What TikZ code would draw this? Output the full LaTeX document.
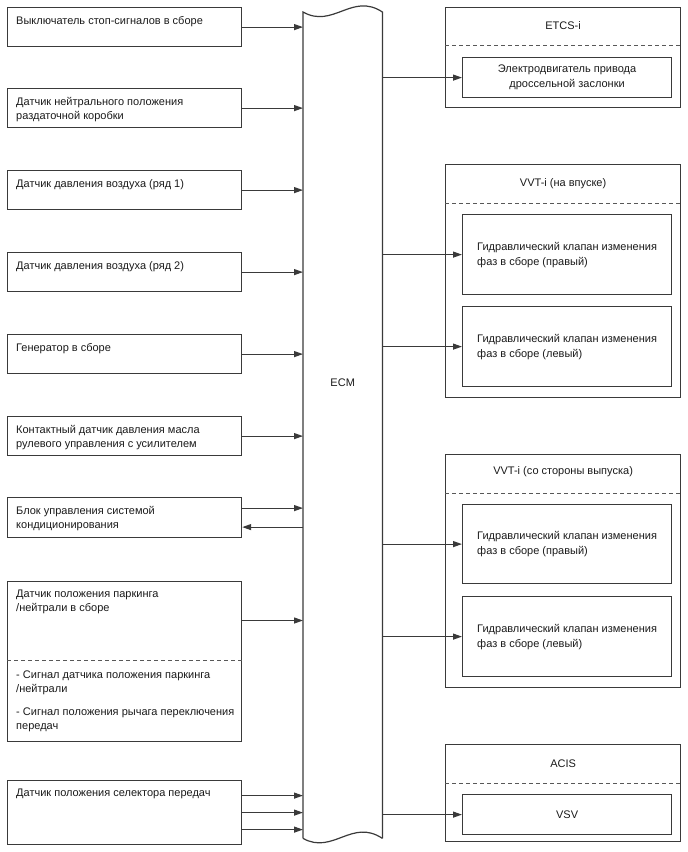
\documentclass[tikz,border=0pt]{standalone}
\usepackage{fontspec}
\setmainfont{Liberation Sans}
\usetikzlibrary{arrows.meta,positioning}
\definecolor{ecmLine}{HTML}{3A3A3A}
\definecolor{ecmText}{HTML}{1A1A1A}
\tikzset{
  ecm frame/.style={draw=ecmLine, line width=1.2pt, rectangle, inner sep=0pt, anchor=north west},
  ecm in/.style={ecm frame, minimum width=234pt, minimum height=39pt},
  ecm text/.style={font=\fontsize{11}{14}\selectfont, text=ecmText, align=left, inner sep=0pt, anchor=north west},
  ecm head/.style={font=\fontsize{11}{14}\selectfont, text=ecmText, inner sep=0pt},
  ecm group/.style={ecm frame, minimum width=235pt},
  ecm valve/.style={ecm frame, minimum width=209pt, font=\fontsize{11}{15}\selectfont, text=ecmText},
  ecm sep/.style={draw=ecmLine!85, line width=0.9pt, dash pattern=on 4pt off 3pt},
  ecm line/.style={draw=ecmLine, line width=1.2pt},
  ecm link/.style={ecm line, -{Triangle[length=9pt,width=6pt]}},
}
\begin{document}
\begin{tikzpicture}[x=1pt,y=-1pt]
\useasboundingbox (0,0) rectangle (688,852);
% ECM
\node[inner sep=0pt, anchor=north west, minimum width=79pt, minimum height=826pt] (ecm) at (303,12) {};
\draw[ecm line] (ecm.south west) -- (ecm.north west) .. controls (333,29) and (352,-8) .. (ecm.north east) -- (ecm.south east);
\draw[ecm line] (ecm.south west) .. controls (333,855) and (352,818) .. (ecm.south east);
\node[ecm head] (ecm txt) at (ecm.center |- 0,383) {ECM};
% inputs
\foreach \n/\y/\t in {stop/7/{Выключатель стоп-сигналов в сборе},
  trans/88/{Датчик нейтрального положения\\раздаточной коробки},
  pbank1/170/{Датчик давления воздуха (ряд 1)},
  pbank2/252/{Датчик давления воздуха (ряд 2)},
  alt/334/{Генератор в сборе},
  pps/416/{Контактный датчик давления масла\\рулевого управления с усилителем}}{
  \node[ecm in] (\n) at (7,\y) {};
  \node[ecm text] (\n txt) at ([shift={(9,9)}]\n.north west) {\t};
  \draw[ecm link] (\n.east) -- (\n.east -| ecm.west);
}
\node[ecm in, minimum height=40pt] (ac) at (7,497) {};
\node[ecm text] (ac txt) at ([shift={(9,9)}]ac.north west) {Блок управления системой\\кондиционирования};
\coordinate (ac out) at ([shift={(0,-9.5)}]ac.east);
\coordinate (ac in) at ([shift={(0,9.5)}]ac.east);
\draw[ecm link] (ac out) -- (ac out -| ecm.west);
\draw[ecm link] (ac in -| ecm.west) -- (ac in);
\node[ecm in, minimum height=160pt] (park) at (7,581) {};
\node[ecm text] (park txt) at ([shift={(9,9)}]park.north west) {Датчик положения паркинга\\/нейтрали в сборе};
\draw[ecm sep] ([shift={(0,79)}]park.north west) -- ([shift={(0,79)}]park.north east);
\node[ecm text] (park sig) at ([shift={(9,90)}]park.north west) {- Сигнал датчика положения паркинга\\/нейтрали\\[9pt]- Сигнал положения рычага переключения\\передач};
\coordinate (park out) at ([shift={(0,39.5)}]park.north east);
\draw[ecm link] (park out) -- (park out -| ecm.west);
\node[ecm in, minimum height=64pt] (sel) at (7,780) {};
\node[ecm text] (sel txt) at ([shift={(9,9)}]sel.north west) {Датчик положения селектора передач};
\foreach \d/\m in {-17/a,0/b,17/c}{
  \coordinate (sel \m) at ([shift={(0,\d)}]sel.east);
  \draw[ecm link] (sel \m) -- (sel \m -| ecm.west);
}
% outputs
\node[ecm group, minimum height=100pt] (etcs) at (445,7) {};
\node[ecm head] (etcs txt) at ([shift={(0,19)}]etcs.north) {ETCS-i};
\draw[ecm sep] ([shift={(0,38)}]etcs.north west) -- ([shift={(0,38)}]etcs.north east);
\node[ecm valve, minimum height=40pt, align=center] (thr) at (462,57) {Электродвигатель привода\\дроссельной заслонки};
\draw[ecm link] (thr.west -| ecm.east) -- (thr.west);
\node[ecm group, minimum height=233pt] (vin) at (445,164) {};
\node[ecm head] (vin txt) at ([shift={(0,20)}]vin.north) {VVT-i (на впуске)};
\draw[ecm sep] ([shift={(0,39)}]vin.north west) -- ([shift={(0,39)}]vin.north east);
\node[ecm valve, minimum height=80pt, align=left] (ocvinr) at (462,214) {Гидравлический клапан изменения\\фаз в сборе (правый)};
\node[ecm valve, minimum height=80pt, align=left] (ocvinl) at (462,306) {Гидравлический клапан изменения\\фаз в сборе (левый)};
\draw[ecm link] (ocvinr.west -| ecm.east) -- (ocvinr.west);
\draw[ecm link] (ocvinl.west -| ecm.east) -- (ocvinl.west);
\node[ecm group, minimum height=233pt] (vex) at (445,454) {};
\node[ecm head] (vex txt) at ([shift={(0,18)}]vex.north) {VVT-i (со стороны выпуска)};
\draw[ecm sep] ([shift={(0,39)}]vex.north west) -- ([shift={(0,39)}]vex.north east);
\node[ecm valve, minimum height=79pt, align=left] (ocvexr) at (462,504) {Гидравлический клапан изменения\\фаз в сборе (правый)};
\node[ecm valve, minimum height=80pt, align=left] (ocvexl) at (462,596) {Гидравлический клапан изменения\\фаз в сборе (левый)};
\draw[ecm link] (ocvexr.west -| ecm.east) -- (ocvexr.west);
\draw[ecm link] (ocvexl.west -| ecm.east) -- (ocvexl.west);
\node[ecm group, minimum height=97pt] (acis) at (445,744) {};
\node[ecm head] (acis txt) at ([shift={(0,20)}]acis.north) {ACIS};
\draw[ecm sep] ([shift={(0,39)}]acis.north west) -- ([shift={(0,39)}]acis.north east);
\node[ecm valve, minimum height=40pt] (vsv) at (462,794) {VSV};
\draw[ecm link] (vsv.west -| ecm.east) -- (vsv.west);
\end{tikzpicture}
\end{document}
